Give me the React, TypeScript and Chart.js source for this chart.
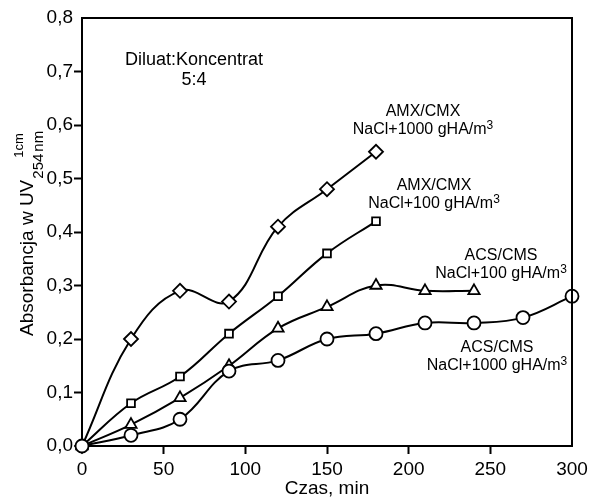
import React, { useEffect, useRef } from "react";
import { Chart, registerables } from "chart.js";

Chart.register(...registerables);

const times = [0, 30, 60, 90, 120, 150, 180, 210, 240, 270, 300];
const amx1000 = [0, 0.2, 0.29, 0.27, 0.41, 0.48, 0.55];
const amx100 = [0, 0.08, 0.13, 0.21, 0.28, 0.36, 0.42];
const acs100 = [0, 0.04, 0.09, 0.15, 0.22, 0.26, 0.3, 0.29, 0.29];
const acs1000 = [0, 0.02, 0.05, 0.14, 0.16, 0.2, 0.21, 0.23, 0.23, 0.24, 0.28];
const xTicks = [0, 50, 100, 150, 200, 250, 300];
const yTicks = [0, 0.1, 0.2, 0.3, 0.4, 0.5, 0.6, 0.7, 0.8];

const FONT = "'Liberation Sans', Arial, sans-serif";

type Part = { t: string; sup?: boolean };
const annotations: { lines: Part[][]; x: number; y: number; size: number; gap: number }[] = [
  { lines: [[{ t: "Diluat:Koncentrat" }], [{ t: "5:4" }]], x: 194, y: 60, size: 18, gap: 20 },
  { lines: [[{ t: "AMX/CMX" }], [{ t: "NaCl+1000 gHA/m" }, { t: "3", sup: true }]], x: 423, y: 112, size: 16, gap: 18 },
  { lines: [[{ t: "AMX/CMX" }], [{ t: "NaCl+100 gHA/m" }, { t: "3", sup: true }]], x: 434, y: 186, size: 16, gap: 18 },
  { lines: [[{ t: "ACS/CMS" }], [{ t: "NaCl+100 gHA/m" }, { t: "3", sup: true }]], x: 501, y: 256, size: 16, gap: 18 },
  { lines: [[{ t: "ACS/CMS" }], [{ t: "NaCl+1000 gHA/m" }, { t: "3", sup: true }]], x: 497, y: 348, size: 16, gap: 18 },
];

const toXY = (vals: number[]) => vals.map((v, i) => ({ x: times[i], y: v }));

const overlay = {
  id: "overlay",
  afterDraw(chart: any) {
    const { ctx, chartArea: a } = chart;
    ctx.save();
    ctx.strokeStyle = "#000";
    ctx.lineWidth = 2;
    ctx.beginPath();
    ctx.moveTo(a.left, a.top);
    ctx.lineTo(a.right, a.top);
    ctx.lineTo(a.right, a.bottom);
    ctx.stroke();

    ctx.fillStyle = "#000";
    ctx.textAlign = "left";
    ctx.textBaseline = "middle";
    annotations.forEach((an) => {
      const supSize = Math.round(an.size * 0.72);
      an.lines.forEach((parts, i) => {
        let total = 0;
        const widths = parts.map((p) => {
          ctx.font = `${p.sup ? supSize : an.size}px ${FONT}`;
          const w = ctx.measureText(p.t).width;
          total += w;
          return w;
        });
        let x = an.x - total / 2;
        const y = an.y + i * an.gap;
        parts.forEach((p, k) => {
          ctx.font = `${p.sup ? supSize : an.size}px ${FONT}`;
          ctx.fillText(p.t, x, p.sup ? y - an.size * 0.3 : y);
          x += widths[k];
        });
      });
    });

    // x title
    ctx.textAlign = "center";
    ctx.textBaseline = "alphabetic";
    ctx.font = `19px ${FONT}`;
    ctx.fillText("Czas, min", (a.left + a.right) / 2, 494);

    // y title
    ctx.translate(33, 336);
    ctx.rotate(-Math.PI / 2);
    ctx.textAlign = "left";
    ctx.textBaseline = "alphabetic";
    ctx.font = `19px ${FONT}`;
    const main = "Absorbancja w UV";
    ctx.fillText(main, 0, 0);
    const w = ctx.measureText(main).width;
    ctx.font = `15px ${FONT}`;
    ctx.fillText("254", w + 1, 10);
    const w2 = ctx.measureText("254").width;
    ctx.fillText("nm", w + 1 + w2 + 2, 10);
    ctx.font = `13px ${FONT}`;
    ctx.fillText("1cm", w + 22, -10);
    ctx.restore();
  },
};

const tickColor = (min: number, max: number) => (c: any) =>
  c.tick && (c.tick.value === min || c.tick.value === max) ? "rgba(0,0,0,0)" : "#000";

export default function App() {
  const ref = useRef<HTMLCanvasElement>(null);
  useEffect(() => {
    document.body.style.margin = "0";
    const common = {
      borderColor: "#000",
      borderWidth: 2,
      pointBackgroundColor: "#fff",
      pointBorderColor: "#000",
      pointBorderWidth: 1.8,
      tension: 0.4,
      clip: false as any,
    };
    const chart = new Chart(ref.current!, {
      type: "line",
      data: {
        datasets: [
          { ...common, data: toXY(acs1000), pointStyle: "circle", pointRadius: 6.5 },
          { ...common, data: toXY(acs100), pointStyle: "triangle", pointRadius: 6.5 },
          { ...common, data: toXY(amx100), pointStyle: "rect", pointRadius: 5.5 },
          { ...common, data: toXY(amx1000), pointStyle: "rectRot", pointRadius: 7 },
        ],
      },
      options: {
        responsive: false,
        animation: false,
        layout: { padding: { left: 0, right: 18, top: 18, bottom: 0 } },
        plugins: { legend: { display: false }, tooltip: { enabled: false } },
        scales: {
          x: {
            type: "linear",
            min: 0,
            max: 300,
            afterBuildTicks: (s: any) => {
              s.ticks = xTicks.map((v) => ({ value: v }));
            },
            afterFit: (s: any) => {
              s.height = 52;
              s.paddingLeft = 0;
              s.paddingRight = 0;
            },
            ticks: { color: "#000", font: { family: FONT, size: 19 }, padding: 4, maxRotation: 0 },
            grid: { drawOnChartArea: false, tickLength: 8, tickColor: tickColor(0, 300), tickWidth: 2 },
            border: { color: "#000", width: 2 },
          },
          y: {
            type: "linear",
            min: 0,
            max: 0.8,
            afterBuildTicks: (s: any) => {
              s.ticks = yTicks.map((v) => ({ value: v }));
            },
            afterFit: (s: any) => {
              s.width = 82;
              s.paddingTop = 0;
              s.paddingBottom = 0;
            },
            ticks: {
              color: "#000",
              font: { family: FONT, size: 19 },
              padding: 1,
              callback: (v: any) => Number(v).toFixed(1).replace(".", ","),
            },
            grid: { drawOnChartArea: false, tickLength: 8, tickColor: tickColor(0, 0.8), tickWidth: 2 },
            border: { color: "#000", width: 2 },
          },
        },
      },
      plugins: [overlay],
    });
    return () => chart.destroy();
  }, []);
  return (
    <div style={{ width: 590, height: 498 }}>
      <canvas ref={ref} width={590} height={498} />
    </div>
  );
}
